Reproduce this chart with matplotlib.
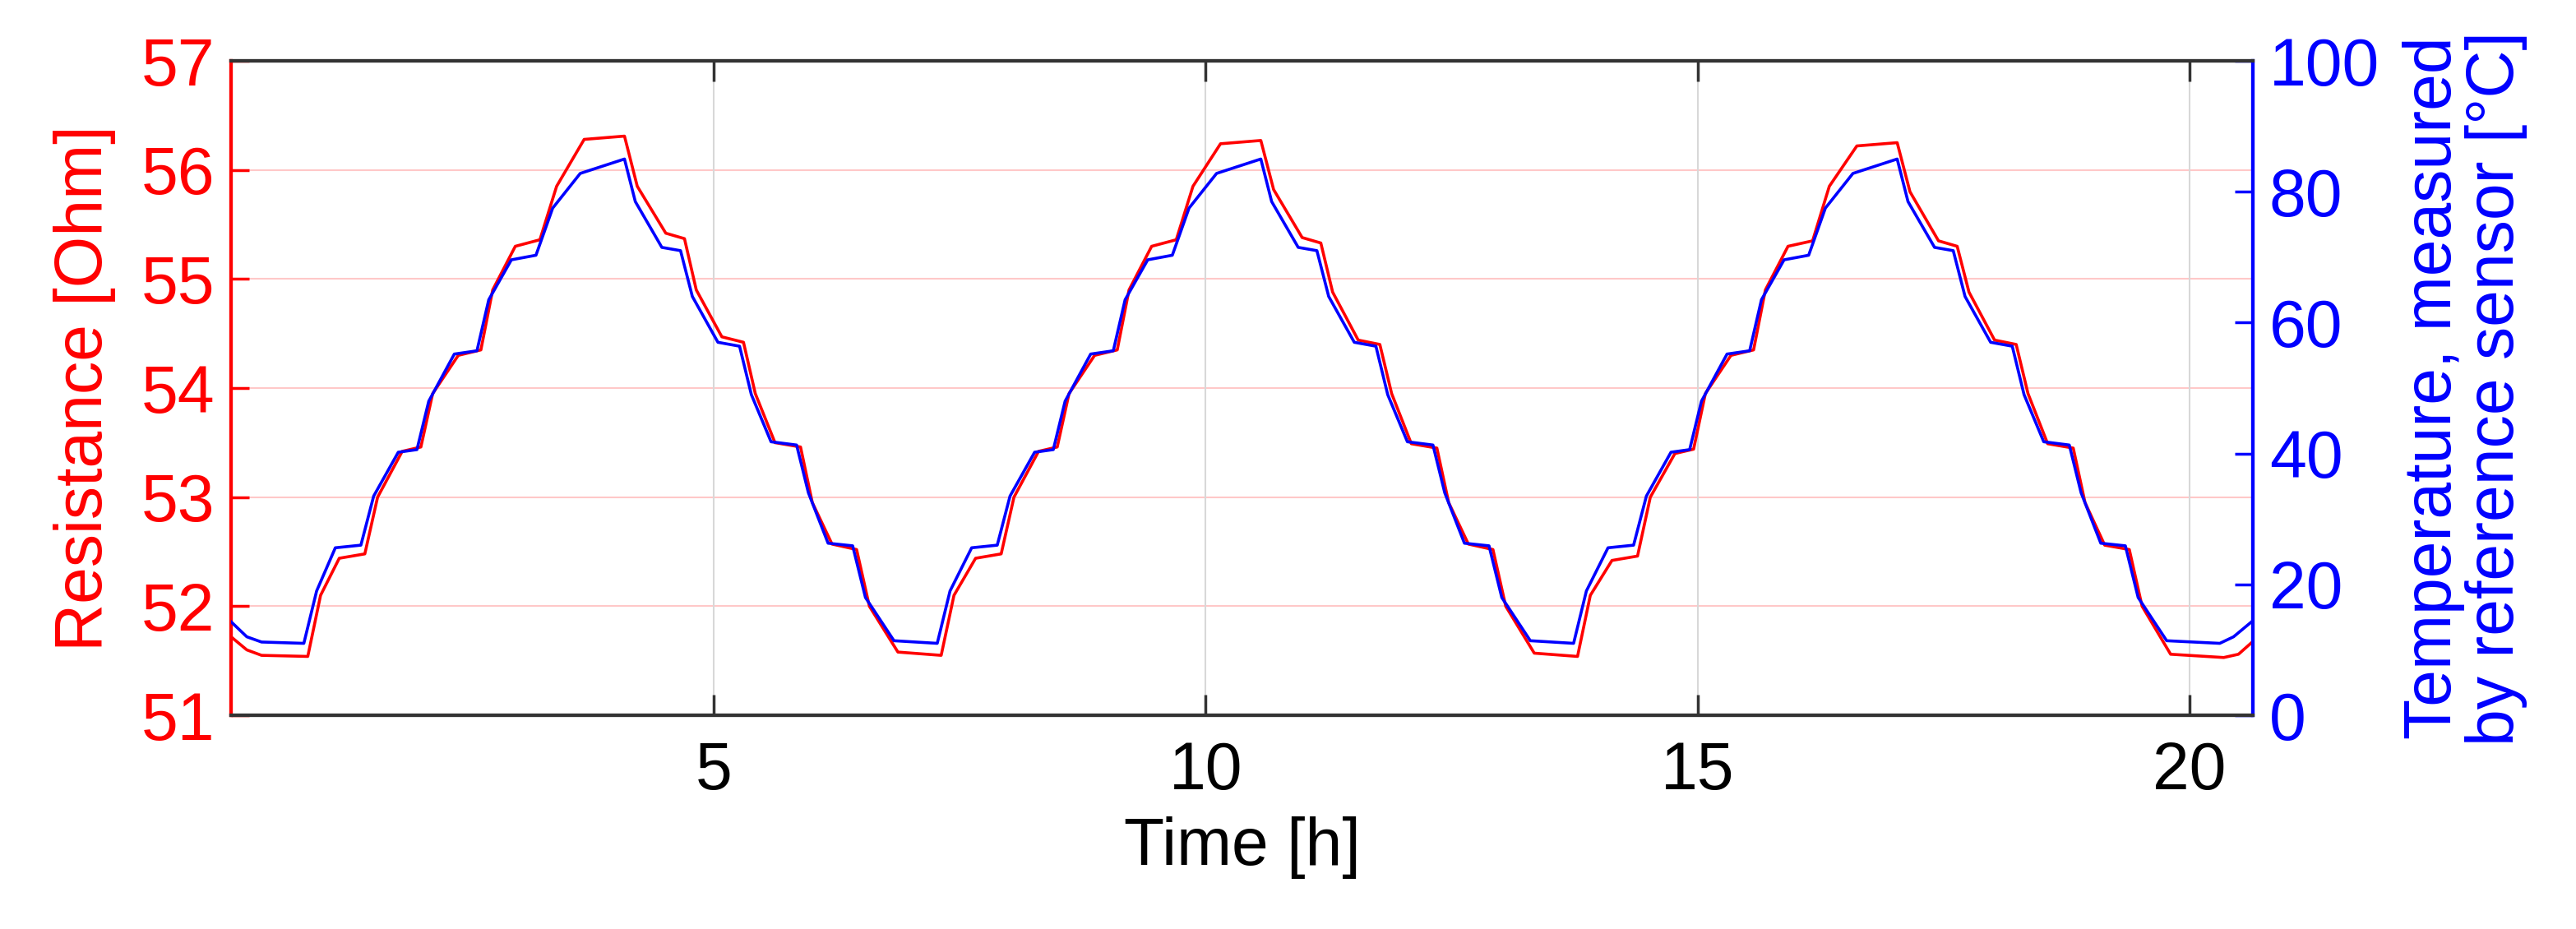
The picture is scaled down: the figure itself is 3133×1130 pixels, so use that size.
import matplotlib
matplotlib.use("Agg")
import matplotlib.pyplot as plt

plt.rcParams['font.family'] = ['Liberation Sans', 'DejaVu Sans']

# Resistance (red): time [h], value [Ohm]
red_t = [0.09, 0.25, 0.40, 0.87, 1.00, 1.19, 1.45, 1.58, 1.83, 2.02, 2.14, 2.40, 2.63, 2.75, 2.98, 3.23, 3.40, 3.68, 4.09, 4.22, 4.51, 4.70, 4.82, 5.08, 5.30, 5.42, 5.62, 5.88, 6.00, 6.20, 6.45, 6.58, 6.87, 7.31,
         7.44, 7.66, 7.92, 8.05, 8.30, 8.49, 8.61, 8.87, 9.10, 9.22, 9.45, 9.70, 9.87, 10.15, 10.56, 10.69, 10.98, 11.17, 11.29, 11.55, 11.77, 11.89, 12.09, 12.35, 12.47, 12.67, 12.92, 13.05, 13.34, 13.78,
         13.91, 14.13, 14.39, 14.52, 14.77, 14.96, 15.08, 15.34, 15.57, 15.69, 15.92, 16.17, 16.34, 16.62, 17.03, 17.16, 17.45, 17.64, 17.76, 18.02, 18.24, 18.36, 18.56, 18.82, 18.94, 19.14, 19.39, 19.52, 19.81, 20.35, 20.50, 20.65]
red_v = [51.72, 51.60, 51.55, 51.54, 52.10, 52.44, 52.48, 53.00, 53.42, 53.46, 53.95, 54.30, 54.35, 54.90, 55.30, 55.36, 55.85, 56.28, 56.31, 55.85, 55.42, 55.37, 54.90, 54.47, 54.42, 53.95, 53.50, 53.46, 52.95, 52.57, 52.52, 52.00, 51.58, 51.55,
         52.10, 52.44, 52.48, 53.00, 53.42, 53.46, 53.95, 54.30, 54.35, 54.90, 55.30, 55.36, 55.85, 56.24, 56.27, 55.82, 55.38, 55.33, 54.88, 54.44, 54.40, 53.95, 53.49, 53.45, 52.95, 52.57, 52.52, 52.00, 51.57, 51.54,
         52.10, 52.42, 52.46, 53.00, 53.40, 53.44, 53.95, 54.30, 54.35, 54.90, 55.30, 55.35, 55.85, 56.22, 56.25, 55.80, 55.35, 55.30, 54.88, 54.44, 54.40, 53.95, 53.49, 53.45, 52.95, 52.56, 52.52, 52.00, 51.56, 51.53, 51.56, 51.68]

# Temperature reference sensor (blue): time [h], value [°C]
blue_t = [0.09, 0.25, 0.40, 0.83, 0.96, 1.15, 1.41, 1.54, 1.79, 1.98, 2.10, 2.36, 2.59, 2.71, 2.94, 3.19, 3.36, 3.64, 4.09, 4.20, 4.47, 4.66, 4.78, 5.04, 5.26, 5.38, 5.58, 5.84, 5.96, 6.16, 6.41, 6.54, 6.83, 7.27,
          7.40, 7.62, 7.88, 8.01, 8.26, 8.45, 8.57, 8.83, 9.06, 9.18, 9.41, 9.66, 9.83, 10.11, 10.56, 10.67, 10.94, 11.13, 11.25, 11.51, 11.73, 11.85, 12.05, 12.31, 12.43, 12.63, 12.88, 13.01, 13.30, 13.74,
          13.87, 14.09, 14.35, 14.48, 14.73, 14.92, 15.04, 15.30, 15.53, 15.65, 15.88, 16.13, 16.30, 16.58, 17.03, 17.14, 17.41, 17.60, 17.72, 17.98, 18.20, 18.32, 18.52, 18.78, 18.90, 19.10, 19.35, 19.48, 19.77, 20.31, 20.45, 20.65]
blue_v = [14.3, 12.0, 11.2, 11.0, 19.0, 25.6, 26.0, 33.5, 40.2, 40.6, 48.0, 55.2, 55.7, 63.5, 69.6, 70.3, 77.5, 82.8, 85.0, 78.5, 71.5, 71.0, 64.0, 57.0, 56.4, 49.0, 41.8, 41.3, 34.0, 26.3, 25.9, 18.0, 11.4, 11.0,
          19.0, 25.6, 26.0, 33.5, 40.2, 40.6, 48.0, 55.2, 55.7, 63.5, 69.6, 70.3, 77.5, 82.8, 85.0, 78.5, 71.5, 71.0, 64.0, 57.0, 56.4, 49.0, 41.8, 41.3, 34.0, 26.3, 25.9, 18.0, 11.4, 11.0,
          19.0, 25.6, 26.0, 33.5, 40.2, 40.6, 48.0, 55.2, 55.7, 63.5, 69.6, 70.3, 77.5, 82.8, 85.0, 78.5, 71.5, 71.0, 64.0, 57.0, 56.4, 49.0, 41.8, 41.3, 34.0, 26.3, 25.9, 18.0, 11.4, 11.0, 12.0, 14.5]

x_ticks = [5, 10, 15, 20]
left_ticks = [51, 52, 53, 54, 55, 56, 57]
right_ticks = [0, 20, 40, 60, 80, 100]

fig = plt.figure(figsize=(31.33, 11.3), dpi=100)
ax = fig.add_axes([0.0897, 0.23, 0.785, 0.7045])
ax2 = ax.twinx()

fs = 58
ax.set_xlim(0.09, 20.65)
ax.set_ylim(51, 57)
ax2.set_ylim(0, 100)

for y in left_ticks[1:-1]:
    ax.axhline(y, color="#ffc8c8", lw=1.5, zorder=0)
for x in x_ticks:
    ax.axvline(x, color="#d8d8d8", lw=1.5, zorder=0)

ax.plot(red_t, red_v, color="red", lw=2.6, zorder=3)
ax2.plot(blue_t, blue_v, color="blue", lw=2.6, zorder=3)

ax.set_xticks(x_ticks)
ax.set_yticks(left_ticks)
ax2.set_yticks(right_ticks)
ax.tick_params(axis="x", direction="in", length=18, width=2.5, labelsize=fs, pad=22, top=True, color="#333333")
ax.tick_params(axis="y", direction="in", length=16, width=2.5, labelsize=fs, colors="red", pad=14)
ax2.tick_params(axis="y", direction="in", length=16, width=2.5, labelsize=fs, colors="blue", pad=14)

for a in (ax, ax2):
    a.spines["left"].set_color("red")
    a.spines["right"].set_color("blue")
    a.spines["top"].set_color("#333333")
    a.spines["bottom"].set_color("#333333")
    for s in a.spines.values():
        s.set_linewidth(3)

ax.set_xlabel("Time [h]", fontsize=fs, labelpad=12)
ax.set_ylabel("Resistance [Ohm]", fontsize=fs, color="red", labelpad=22)
ax2.set_ylabel("Temperature, measured\nby reference sensor [°C]", fontsize=fs, color="blue", labelpad=20, linespacing=1.0)

fig.savefig("out.png", dpi=100)
